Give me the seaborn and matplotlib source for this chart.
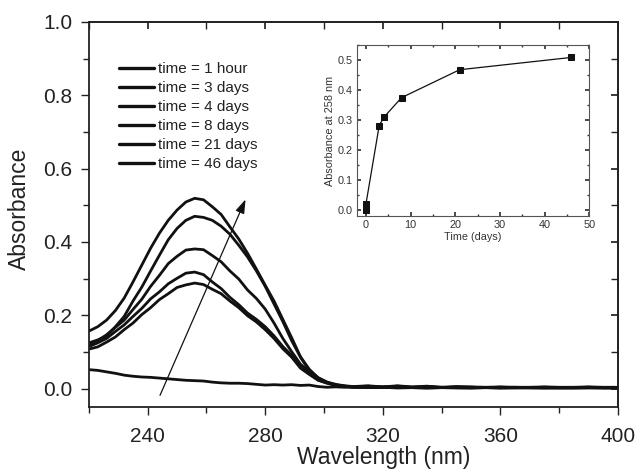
import numpy as np
import pandas as pd
import seaborn as sns
import matplotlib
matplotlib.use("Agg")
import matplotlib.pyplot as plt
from matplotlib.ticker import MultipleLocator

# ---------------------------------------------------------------- data -----
wavelength = [220, 223, 226, 229, 232, 235, 238, 241, 244, 247, 250, 253, 256,
              259, 262, 265, 268, 271, 274, 277, 280, 283, 286, 289, 292, 295,
              298, 301, 304, 307, 310,
              315, 320, 325, 330, 335, 340, 345, 350, 355, 360, 365, 370, 375,
              380, 385, 390, 395, 400]

abs_1h = [0.052, 0.050, 0.046, 0.042, 0.037, 0.034, 0.032, 0.031, 0.029, 0.027,
          0.025, 0.023, 0.022, 0.021, 0.018, 0.016, 0.015, 0.015, 0.014, 0.012,
          0.010, 0.011, 0.010, 0.011, 0.009, 0.010, 0.006, 0.004, 0.005, 0.004,
          0.005,
          0.004, 0.005, 0.003, 0.004, 0.004, 0.003, 0.004, 0.003, 0.003, 0.004,
          0.003, 0.003, 0.004, 0.003, 0.003, 0.004, 0.003, 0.003]

abs_3d = [0.108, 0.114, 0.127, 0.141, 0.161, 0.179, 0.202, 0.221, 0.243, 0.259,
          0.276, 0.283, 0.288, 0.284, 0.271, 0.259, 0.239, 0.221, 0.199, 0.182,
          0.161, 0.137, 0.109, 0.086, 0.056, 0.039, 0.023, 0.015, 0.009, 0.006,
          0.004,
          0.003, 0.004, 0.002, 0.003, 0.002, 0.003, 0.002, 0.002, 0.003, 0.002,
          0.002, 0.003, 0.002, 0.002, 0.002, 0.003, 0.002, 0.002]

abs_4d = [0.115, 0.125, 0.137, 0.156, 0.174, 0.197, 0.219, 0.245, 0.264, 0.286,
          0.301, 0.315, 0.318, 0.311, 0.291, 0.273, 0.249, 0.229, 0.206, 0.189,
          0.169, 0.144, 0.115, 0.091, 0.059, 0.041, 0.024, 0.016, 0.010, 0.006,
          0.004,
          0.004, 0.003, 0.004, 0.003, 0.002, 0.003, 0.003, 0.002, 0.003, 0.002,
          0.003, 0.002, 0.002, 0.003, 0.002, 0.002, 0.003, 0.002]

abs_8d = [0.120, 0.131, 0.147, 0.167, 0.187, 0.216, 0.244, 0.279, 0.309, 0.341,
          0.361, 0.378, 0.381, 0.379, 0.363, 0.346, 0.321, 0.299, 0.269, 0.246,
          0.217, 0.179, 0.137, 0.101, 0.067, 0.046, 0.027, 0.017, 0.010, 0.007,
          0.005,
          0.006, 0.004, 0.006, 0.003, 0.005, 0.004, 0.003, 0.004, 0.003, 0.003,
          0.004, 0.003, 0.003, 0.002, 0.003, 0.003, 0.002, 0.003]

abs_21d = [0.125, 0.133, 0.144, 0.169, 0.197, 0.239, 0.277, 0.321, 0.364, 0.406,
           0.437, 0.459, 0.470, 0.467, 0.459, 0.443, 0.421, 0.391, 0.359, 0.321,
           0.279, 0.231, 0.183, 0.131, 0.086, 0.049, 0.030, 0.018, 0.010, 0.007,
           0.005,
           0.007, 0.004, 0.007, 0.004, 0.006, 0.003, 0.005, 0.004, 0.003, 0.004,
           0.003, 0.003, 0.004, 0.003, 0.003, 0.004, 0.003, 0.003]

abs_46d = [0.157, 0.169, 0.187, 0.213, 0.247, 0.291, 0.337, 0.383, 0.424, 0.459,
           0.487, 0.509, 0.519, 0.515, 0.496, 0.475, 0.441, 0.408, 0.369, 0.326,
           0.282, 0.239, 0.189, 0.139, 0.087, 0.053, 0.030, 0.018, 0.012, 0.008,
           0.006,
           0.008, 0.005, 0.008, 0.005, 0.007, 0.004, 0.006, 0.005, 0.004, 0.005,
           0.004, 0.004, 0.005, 0.004, 0.004, 0.005, 0.004, 0.004]

labels = ["time = 1 hour", "time = 3 days", "time = 4 days",
          "time = 8 days", "time = 21 days", "time = 46 days"]

# inset: absorbance at 258 nm vs time
time_days = [0, 0.04, 3, 4, 8, 21, 46]
abs_258 = [0.0, 0.021, 0.282, 0.309, 0.375, 0.468, 0.509]

# arrow (direction of increasing time)
arrow_from = (244.2, -0.018)
arrow_to = (273.3, 0.516)

# ---------------------------------------------------------------- plot -----
sns.set_theme(style="ticks")
plt.rcParams["font.family"] = ["Liberation Sans", "DejaVu Sans"]

rows = []
for lab, vals in zip(labels, [abs_1h, abs_3d, abs_4d, abs_8d, abs_21d, abs_46d]):
    for w, a in zip(wavelength, vals):
        rows.append({"wavelength": w, "absorbance": a, "sample": lab})
df = pd.DataFrame(rows)

fig = plt.figure(figsize=(6.35, 4.75), dpi=100)
ax = fig.add_axes([0.140, 0.143, 0.833, 0.811])

sns.lineplot(data=df, x="wavelength", y="absorbance", hue="sample",
             hue_order=labels, palette=["#111111"] * 6, linewidth=2.0,
             estimator=None, sort=False, ax=ax)

ax.set_xlim(220, 400)
ax.set_ylim(-0.05, 1.0)
ax.xaxis.set_major_locator(MultipleLocator(40))
ax.xaxis.set_minor_locator(MultipleLocator(20))
ax.yaxis.set_major_locator(MultipleLocator(0.2))
ax.yaxis.set_minor_locator(MultipleLocator(0.1))
ax.yaxis.set_major_formatter(plt.FormatStrFormatter("%.1f"))
ax.tick_params(which="major", direction="out", length=6, width=1.0,
               labelsize=15, pad=6, colors="#222222")
ax.tick_params(axis="x", which="major", pad=8)
ax.tick_params(which="minor", direction="out", length=4, width=1.0, colors="#222222")
ax.set_xlabel("Wavelength (nm)", fontsize=16.5, color="#222222")
ax.set_ylabel("Absorbance", fontsize=16.5, color="#222222")
ax.xaxis.set_label_coords(0.558, -0.100)
ax.yaxis.set_label_coords(-0.110, 0.515)
for s in ax.spines.values():
    s.set_linewidth(1.3)
    s.set_color("#222222")

# inward ticks on the top and right spines
top = ax.secondary_xaxis("top")
top.xaxis.set_major_locator(MultipleLocator(40))
top.xaxis.set_minor_locator(MultipleLocator(20))
top.tick_params(which="both", direction="in", labeltop=False, length=5, colors="#222222")
right = ax.secondary_yaxis("right")
right.yaxis.set_major_locator(MultipleLocator(0.2))
right.yaxis.set_minor_locator(MultipleLocator(0.1))
right.tick_params(which="both", direction="in", labelright=False, length=5, colors="#222222")

ax.annotate("", xy=arrow_to, xytext=arrow_from,
            arrowprops=dict(arrowstyle="-|>,head_length=0.6,head_width=0.2",
                            lw=0.9, color="#111111",
                            mutation_scale=14, shrinkA=0, shrinkB=0))

leg = ax.legend(loc="upper left", bbox_to_anchor=(0.045, 0.912), frameon=False,
                fontsize=11, handlelength=2.3, handletextpad=0.25,
                labelspacing=0.33, borderaxespad=0)
for h in leg.get_lines():
    h.set_linewidth(2.4)
for t in leg.get_texts():
    t.set_color("#222222")

# inset
ins = fig.add_axes([0.562, 0.545, 0.366, 0.360])
sns.lineplot(x=time_days, y=abs_258, color="#111111", linewidth=0.9,
             marker="s", markersize=5, markeredgecolor="#111111",
             estimator=None, sort=False, ax=ins)
ins.set_xlim(-2, 50)
ins.set_ylim(-0.02, 0.55)
ins.xaxis.set_major_locator(MultipleLocator(10))
ins.xaxis.set_minor_locator(MultipleLocator(5))
ins.yaxis.set_major_locator(MultipleLocator(0.1))
ins.yaxis.set_minor_locator(MultipleLocator(0.05))
ins.tick_params(which="both", direction="in", top=True, right=True,
                labelsize=7.8, pad=3, colors="#333333")
ins.tick_params(which="major", length=3)
ins.tick_params(which="minor", length=1.5)
ins.set_xlabel("Time (days)", fontsize=7.8, labelpad=1, color="#333333")
ins.set_ylabel("Absorbance at 258 nm", fontsize=7.8, labelpad=2, color="#333333")
for s in ins.spines.values():
    s.set_linewidth(0.8)
    s.set_color("#555555")

fig.savefig("out.png", dpi=100)
